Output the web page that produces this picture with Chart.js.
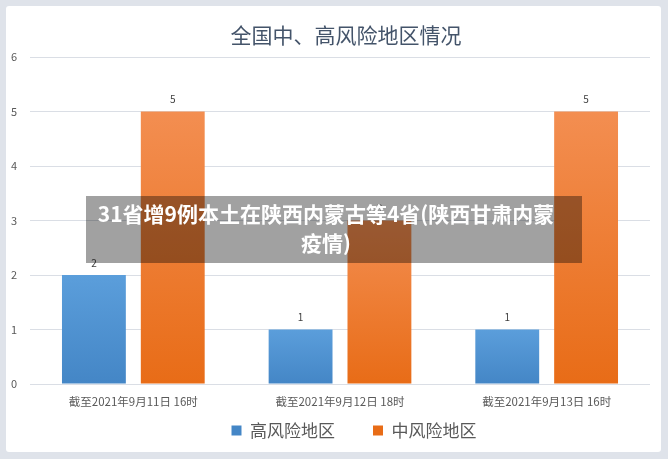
<!DOCTYPE html>
<html><head><meta charset="utf-8">
<script src="https://cdn.jsdelivr.net/npm/chart.js@4.4.0/dist/chart.umd.min.js"></script>
<style>
html,body{margin:0;padding:0;width:668px;height:459px;overflow:hidden;background:#dfe3ea;}
#card{position:absolute;left:6px;top:6px;width:655px;height:446px;background:#fff;border-radius:3px;}
#wrap{position:absolute;left:0;top:0;width:668px;height:459px;}
#overlay{position:absolute;left:86px;top:196px;width:480px;height:64.5px;padding:2.5px 16px 0 0;background:rgba(0,0,0,0.37);color:#fff;font:bold 21px/29px "Noto Sans CJK SC","Noto Sans",sans-serif;text-align:center;white-space:nowrap;}
</style></head>
<body>
<div id="card"></div>
<div id="wrap"><canvas id="c" width="668" height="459"></canvas></div>
<div id="overlay"></div>
<script>
const categories = ['截至2021年9月11日 16时', '截至2021年9月12日 18时', '截至2021年9月13日 16时'];
const seriesNames = ['高风险地区', '中风险地区'];
const highRisk = [2, 1, 1];
const mediumRisk = [5, 3, 5];
const yMin = 0, yMax = 6, yStep = 1;
const chartTitle = '全国中、高风险地区情况';
const overlayLines = ['31省增9例本土在陕西内蒙古等4省(陕西甘肃内蒙', '疫情)'];

const FONT = '"Noto Sans CJK SC", "Noto Sans", sans-serif';

const ov = document.getElementById('overlay');
overlayLines.forEach((t, i) => {
  if (i) ov.appendChild(document.createElement('br'));
  ov.appendChild(document.createTextNode(t));
});

function grad(top, bottom, mid) {
  return (ctx) => {
    const chart = ctx.chart;
    const y = chart.scales && chart.scales.y;
    if (ctx.type !== 'data' || !chart.chartArea || !y || ctx.raw == null) return mid;
    const y0 = y.getPixelForValue(ctx.raw);
    const y1 = y.getPixelForValue(0);
    const g = chart.ctx.createLinearGradient(0, y0, 0, y1);
    g.addColorStop(0, top);
    g.addColorStop(1, bottom);
    return g;
  };
}

const valueLabels = {
  id: 'valueLabels',
  afterDatasetsDraw(chart) {
    const ctx = chart.ctx;
    ctx.save();
    ctx.font = '10px ' + FONT;
    ctx.fillStyle = '#404040';
    ctx.textAlign = 'center';
    ctx.textBaseline = 'middle';
    chart.data.datasets.forEach((ds, i) => {
      chart.getDatasetMeta(i).data.forEach((el, j) => {
        ctx.fillText(String(ds.data[j]), el.x, el.y - 12);
      });
    });
    ctx.restore();
  }
};

const shiftBlocks = {
  id: 'shiftBlocks',
  afterLayout(chart) {
    const t = chart.titleBlock;
    if (t) { const dx = 346 - (t.left + t.right) / 2; t.left += dx; t.right += dx; }
    const l = chart.legend;
    if (l) {
      const dx = 354 - (l.left + l.right) / 2; l.left += dx; l.right += dx;
      l.top = chart.chartArea.bottom; l.bottom = chart.height;
    }
  }
};

new Chart(document.getElementById('c'), {
  type: 'bar',
  data: {
    labels: categories,
    datasets: [
      { label: seriesNames[0], data: highRisk,
        backgroundColor: grad('#5b9edb', '#4486c6', '#4a8fd0'),
        categoryPercentage: 0.763, barPercentage: 0.81 },
      { label: seriesNames[1], data: mediumRisk,
        backgroundColor: grad('#f38e51', '#e86c17', '#ef7a2b'),
        categoryPercentage: 0.763, barPercentage: 0.81 }
    ]
  },
  options: {
    responsive: false,
    animation: false,
    devicePixelRatio: 1,
    layout: { padding: { left: 0, right: 18, top: 0, bottom: 0 } },
    plugins: {
      title: {
        display: true, text: chartTitle, color: '#44546a',
        font: { size: 21, family: FONT, weight: 'normal' },
        padding: { top: 22.4, bottom: 9.4 }
      },
      legend: {
        position: 'bottom',
        maxHeight: 50,
        labels: {
          boxWidth: 10, boxHeight: 10, padding: 38, color: '#595959',
          font: { size: 17, family: FONT }
        }
      },
      tooltip: { enabled: false }
    },
    scales: {
      x: {
        grid: { display: false, drawTicks: false },
        border: { display: false },
        ticks: { color: '#595959', font: { size: 11.5, family: FONT }, padding: 11, maxRotation: 0, autoSkip: false },
        afterFit(s) { s.height = 25; }
      },
      y: {
        min: yMin, max: yMax,
        grid: { color: '#dadee5', drawTicks: false },
        border: { display: false },
        ticks: { stepSize: yStep, color: '#595959', font: { size: 11, family: FONT }, padding: 13 },
        afterFit(s) { s.width = 30; }
      }
    }
  },
  plugins: [valueLabels, shiftBlocks]
});
</script>
</body></html>
